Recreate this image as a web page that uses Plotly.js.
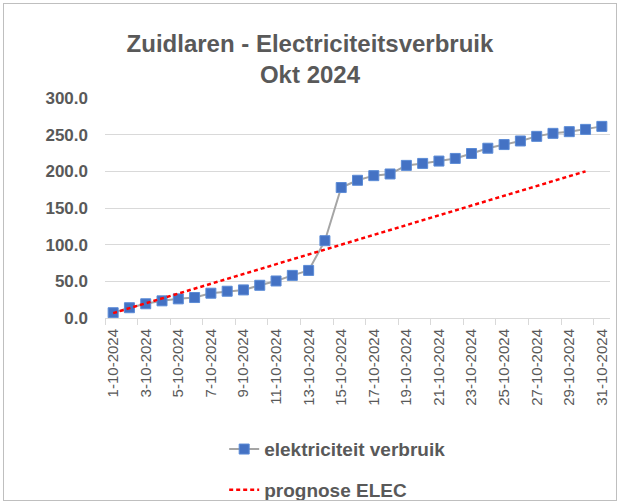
<!DOCTYPE html>
<html>
<head>
<meta charset="utf-8">
<script src="https://cdn.plot.ly/plotly-3.0.1.min.js"></script>
<style>
  html, body { margin: 0; padding: 0; background: #ffffff; }
  #wrap { position: relative; width: 620px; height: 502px; }
  #chart { width: 620px; height: 502px; }
  #frame { position: absolute; left: 3px; top: 3px; width: 612px; height: 496px; border: 1px solid #bfbfbf; pointer-events: none; }
</style>
</head>
<body>
<div id="wrap">
  <div id="chart"></div>
  <div id="frame"></div>
</div>
<script>
const dates = [
  "1-10-2024","2-10-2024","3-10-2024","4-10-2024","5-10-2024","6-10-2024","7-10-2024","8-10-2024",
  "9-10-2024","10-10-2024","11-10-2024","12-10-2024","13-10-2024","14-10-2024","15-10-2024","16-10-2024",
  "17-10-2024","18-10-2024","19-10-2024","20-10-2024","21-10-2024","22-10-2024","23-10-2024","24-10-2024",
  "25-10-2024","26-10-2024","27-10-2024","28-10-2024","29-10-2024","30-10-2024","31-10-2024"
];
const verbruik = [
  7.2, 14.0, 19.4, 23.4, 26.1, 27.9, 33.8, 36.5, 38.3, 44.6,
  50.5, 58.1, 64.9, 105.4, 177.9, 187.8, 194.1, 196.4, 208.1, 210.8,
  214.0, 217.6, 224.3, 231.5, 236.5, 241.4, 247.7, 251.8, 254.1, 257.2, 261.3
];
const prognose = [
  6.7, 13.3, 20.0, 26.7, 33.3, 40.0, 46.7, 53.3, 60.0, 66.7,
  73.3, 80.0, 86.7, 93.3, 100.0, 106.7, 113.3, 120.0, 126.7, 133.3,
  140.0, 146.7, 153.3, 160.0, 166.7, 173.3, 180.0, 186.7, 193.3, 200.0
];
const yTicks = [0, 50, 100, 150, 200, 250, 300];

const dayPos = dates.map((d, i) => i + 1);
const labelPos = dayPos.filter((p, i) => i % 2 === 0);
const labelText = dates.filter((d, i) => i % 2 === 0);

const txt = '#595959';
const grid = '#d9d9d9';

const traces = [
  {
    x: dayPos, y: verbruik, type: 'scatter', mode: 'lines+markers',
    name: 'elektriciteit verbruik', legendgroup: 'a',
    line: { color: '#a5a5a5', width: 2 },
    marker: { symbol: 'square', size: 10, color: '#4472c4', line: { color: '#5b8bd6', width: 1 } }
  },
  {
    x: dayPos.slice(0, prognose.length), y: prognose, type: 'scatter', mode: 'lines',
    name: 'prognose ELEC', legendgroup: 'b',
    line: { color: '#ff0000', width: 2.5, dash: '4px,3px' }
  }
];

const layout = {
  width: 620, height: 502,
  margin: { l: 105, r: 10, t: 98, b: 184, autoexpand: false },
  paper_bgcolor: 'rgba(0,0,0,0)', plot_bgcolor: '#ffffff',
  font: { family: 'Liberation Sans, Arial, sans-serif', color: txt },
  title: {
    text: '<b>Zuidlaren - Electriciteitsverbruik<br>Okt 2024</b>',
    font: { family: 'Liberation Sans, Arial, sans-serif', size: 24, color: txt },
    x: 0.5, xref: 'container', xanchor: 'center',
    y: 0.897, yref: 'container', yanchor: 'top'
  },
  xaxis: {
    type: 'linear', range: [0.5, 31.5],
    tickmode: 'array', tickvals: labelPos, ticktext: labelText,
    tickangle: -90, ticks: '', tickfont: { size: 15, color: txt },
    showgrid: false, zeroline: false,
    showline: true, linecolor: grid, linewidth: 1,
    minor: { tickmode: 'linear', tick0: 0.5, dtick: 2, ticks: 'outside', ticklen: 6, tickcolor: grid, tickwidth: 1, showgrid: false },
    ticklabelstandoff: 4
  },
  yaxis: {
    range: [0, 300], tickmode: 'array', tickvals: yTicks, tickformat: '.1f',
    ticks: '', showgrid: true, gridcolor: grid, gridwidth: 1, zeroline: false,
    showline: false, tickfont: { size: 17, color: txt, weight: 'bold' },
    ticklabelstandoff: 16
  },
  showlegend: true,
  legend: {
    orientation: 'v', x: 0.236, xanchor: 'left', y: -0.51, yanchor: 'top',
    font: { size: 19, color: txt, weight: 'bold' },
    tracegroupgap: 13, traceorder: 'grouped', bgcolor: 'rgba(0,0,0,0)'
  }
};

Plotly.newPlot('chart', traces, layout, { displayModeBar: false, staticPlot: true });
</script>
</body>
</html>
